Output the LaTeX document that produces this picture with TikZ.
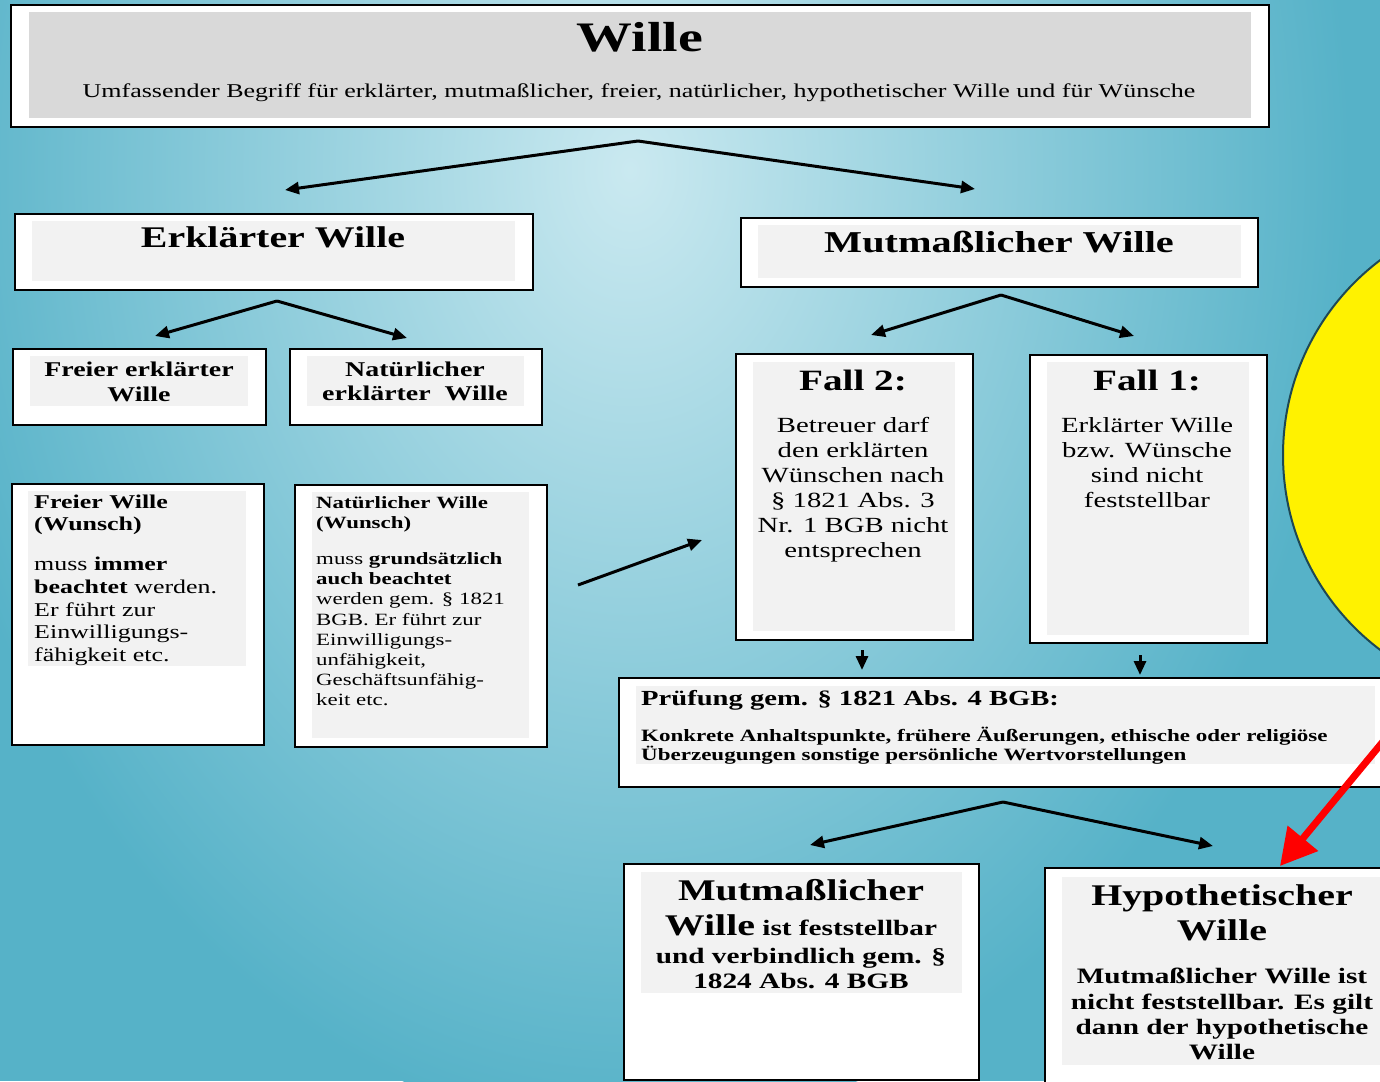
\documentclass[tikz,border=0pt]{standalone}
\usepackage{fontspec}
\setmainfont{Liberation Serif}[FakeStretch=1.33]
\usetikzlibrary{arrows.meta}

\definecolor{bgdark}{RGB}{86,178,200}
\definecolor{bglight}{RGB}{202,233,240}
\definecolor{graytop}{RGB}{217,217,217}
\definecolor{graybox}{RGB}{242,242,242}
\definecolor{sunedge}{RGB}{30,72,84}
\newcommand{\setfs}[2]{\fontsize{#1}{#2}\selectfont}

\tikzset{
  outerbox/.style={draw=black, line width=2pt, fill=white, inner sep=0pt, anchor=north west},
  innerbox/.style={fill=graybox, inner sep=0pt, anchor=north west},
  txt/.style={inner sep=0pt, align=center},
  arr/.style={line width=3pt, -{Triangle[length=14pt,width=12pt]}},
}

\begin{document}
\begin{tikzpicture}[x=1pt, y=-1pt]
\useasboundingbox (0,0) rectangle (1380,1081);
\clip (0,0) rectangle (1380,1081);

% background
\fill[bgdark] (0,0) rectangle (1380,1081);
\shade[inner color=bglight, outer color=bgdark] (630,170) ellipse [x radius=720, y radius=960];

% sun on the right
\draw[fill=yellow, draw=sunedge, line width=2pt] (1527,455) circle [radius=244];

% top box
\node[outerbox, minimum width=1258pt, minimum height=122pt] (wille) at (10,4) {};
\node[innerbox, fill=graytop, minimum width=1222pt, minimum height=106pt] (willein) at (29,12) {};
\node[txt, anchor=base, font=\setfs{42}{46}\bfseries] (willetitle) at (640,52) {Wille};
\node[txt, anchor=base, font=\setfs{19.55}{23}] (willesub) at (639,97)
  {Umfassender Begriff für erklärter, mutmaßlicher, freier, natürlicher, hypothetischer Wille und für Wünsche};

% second row
\node[outerbox, minimum width=518pt, minimum height=76pt] (erkl) at (14,213) {};
\node[innerbox, minimum width=483pt, minimum height=60pt] (erklin) at (32,221) {};
\node[txt, anchor=base, font=\setfs{30}{34}\bfseries] (erkltxt) at (273,247) {Erklärter Wille};

\node[outerbox, minimum width=517pt, minimum height=69pt] (mutm) at (740,217) {};
\node[innerbox, minimum width=483pt, minimum height=53pt] (mutmin) at (758,225) {};
\node[txt, anchor=base, font=\setfs{30.3}{34}\bfseries] (mutmtxt) at (999,252) {Mutmaßlicher Wille};

% third row left
\node[outerbox, minimum width=253pt, minimum height=76pt] (freierkl) at (12,348) {};
\node[innerbox, minimum width=218pt, minimum height=50pt] (freierklin) at (30,356) {};
\node[txt, anchor=north, font=\setfs{21}{25}\bfseries] (freierkltxt) at (139,361.5) {Freier erklärter\\Wille};

\node[outerbox, minimum width=252pt, minimum height=76pt] (natkl) at (289,348) {};
\node[innerbox, minimum width=217pt, minimum height=50pt] (natklin) at (307,356) {};
\node[txt, anchor=north, font=\setfs{21}{24}\bfseries] (natkltxt) at (415,361.5) {Natürlicher\\erklärter\ \ Wille};

% fourth row left
\node[outerbox, minimum width=252pt, minimum height=261pt] (freiw) at (11,483) {};
\node[innerbox, minimum width=218pt, minimum height=175pt] (freiwin) at (28,491) {};
\node[txt, align=left, anchor=north west, font=\setfs{19.5}{22.7}] (freiwtxt) at (34,494.5)
  {\textbf{Freier Wille}\\\textbf{(Wunsch)}\\[17pt]muss \textbf{immer}\\\textbf{beachtet} werden.\\Er führt zur\\Einwilligungs-\\fähigkeit etc.};

\node[outerbox, minimum width=252pt, minimum height=262pt] (natw) at (294,484) {};
\node[innerbox, minimum width=217pt, minimum height=246pt] (natwin) at (312,492) {};
\node[txt, align=left, anchor=north west, font=\setfs{17.2}{20.2}] (natwtxt) at (316,496)
  {\textbf{Natürlicher Wille}\\\textbf{(Wunsch)}\\[16pt]muss \textbf{grundsätzlich}\\\textbf{auch beachtet}\\werden gem. § 1821\\BGB. Er führt zur\\Einwilligungs-\\unfähigkeit,\\Geschäftsunfähig-\\keit etc.};

% cases
\node[outerbox, minimum width=237pt, minimum height=286pt] (fall2) at (735,353) {};
\node[innerbox, minimum width=202pt, minimum height=269pt] (fall2in) at (753,362) {};
\node[txt, anchor=base, font=\setfs{29.5}{33}\bfseries] (fall2title) at (853,390) {Fall 2:};
\node[txt, anchor=north, font=\setfs{21.6}{25}] (fall2txt) at (853,417)
  {Betreuer darf\\den erklärten\\Wünschen nach\\§ 1821 Abs. 3\\Nr. 1 BGB nicht\\entsprechen};

\node[outerbox, minimum width=237pt, minimum height=288pt] (fall1) at (1029,354) {};
\node[innerbox, minimum width=202pt, minimum height=273pt] (fall1in) at (1047,362) {};
\node[txt, anchor=base, font=\setfs{29.5}{33}\bfseries] (fall1title) at (1147,390) {Fall 1:};
\node[txt, anchor=north, font=\setfs{21.6}{25}] (fall1txt) at (1147,417)
  {Erklärter Wille\\bzw. Wünsche\\sind nicht\\feststellbar};

% examination
\node[outerbox, minimum width=782pt, minimum height=109pt] (pruef) at (618,677) {};
\node[innerbox, minimum width=739pt, minimum height=78pt] (pruefin) at (636,686) {};
\node[txt, anchor=base west, font=\setfs{21.5}{25}\bfseries] (prueftitle) at (641,705) {Prüfung gem. § 1821 Abs. 4 BGB:};
\node[txt, align=left, anchor=north west, font=\setfs{17.3}{19}\bfseries] (prueftxt) at (641,727)
  {Konkrete Anhaltspunkte, frühere Äußerungen, ethische oder religiöse\\Überzeugungen sonstige persönliche Wertvorstellungen};

% results
\node[outerbox, minimum width=355pt, minimum height=216pt] (mwbox) at (623,863) {};
\node[innerbox, minimum width=321pt, minimum height=121pt] (mwboxin) at (641,872) {};
\node[txt, anchor=base, font=\setfs{30}{34}\bfseries] (mwline1) at (801,900) {Mutmaßlicher};
\node[txt, anchor=base, font=\setfs{22}{25}\bfseries] (mwline2) at (801,935) {{\setfs{30}{34}Wille} ist feststellbar};
\node[txt, anchor=north, font=\setfs{22}{25}\bfseries] (mwline3) at (801,948) {und verbindlich gem. §\\1824 Abs. 4 BGB};

\node[outerbox, minimum width=356pt, minimum height=228pt] (hypo) at (1044,867) {};
\node[innerbox, minimum width=328pt, minimum height=188pt] (hypoin) at (1062,877) {};
\node[txt, anchor=north, font=\setfs{30}{35}\bfseries] (hypotitle) at (1222,884) {Hypothetischer\\Wille};
\node[txt, anchor=north, font=\setfs{22}{25.3}\bfseries] (hypotxt) at (1222,968)
  {Mutmaßlicher Wille ist\\nicht feststellbar. Es gilt\\dann der hypothetische\\Wille};

% connectors
\coordinate (wfork) at (638,141);
\coordinate (wleft) at (285,190);
\coordinate (wright) at (975,189);
\coordinate (efork) at (277,301);
\coordinate (eleft) at (155,336);
\coordinate (eright) at (407,338);
\coordinate (mfork) at (1001,295);
\coordinate (mleft) at (871,335);
\coordinate (mright) at (1134,336);
\coordinate (nstart) at (578,585);
\coordinate (nend) at (702,540);
\coordinate (f2top) at (862,650);
\coordinate (f2tip) at (862,670);
\coordinate (f1top) at (1140,655);
\coordinate (f1tip) at (1140,675);
\coordinate (pfork) at (1003,802);
\coordinate (pleft) at (810,845);
\coordinate (pright) at (1213,846);
\coordinate (redstart) at (1400,721);
\coordinate (redtip) at (1280,866);

\draw[arr] (wfork) -- (wleft);
\draw[arr] (wfork) -- (wright);
\draw[arr] (efork) -- (eleft);
\draw[arr] (efork) -- (eright);
\draw[arr] (mfork) -- (mleft);
\draw[arr] (mfork) -- (mright);
\draw[arr] (nstart) -- (nend);
\draw[arr] (f2top) -- (f2tip);
\draw[arr] (f1top) -- (f1tip);
\draw[arr] (pfork) -- (pleft);
\draw[arr] (pfork) -- (pright);
\draw[line width=7pt, red, -{Triangle[length=36pt,width=38pt]}] (redstart) -- (redtip);
\end{tikzpicture}
\end{document}
